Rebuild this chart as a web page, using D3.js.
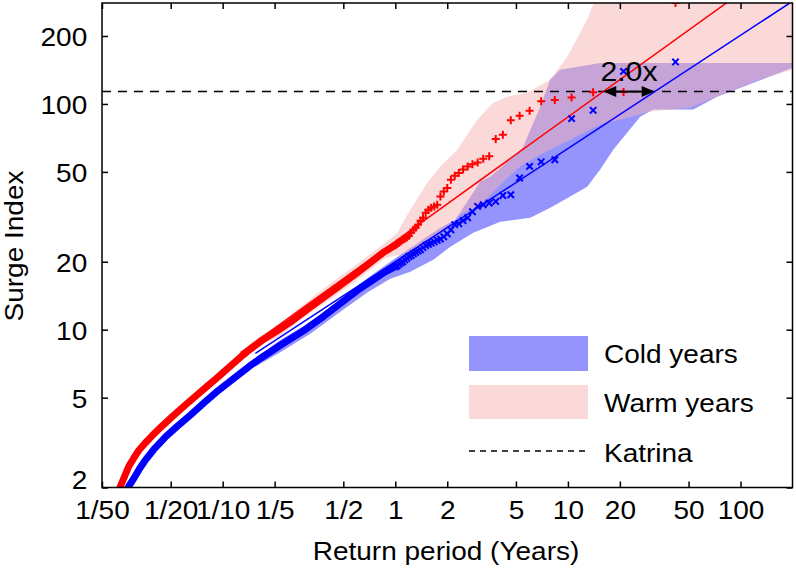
<!DOCTYPE html>
<html><head><meta charset="utf-8">
<script src="https://cdn.jsdelivr.net/npm/d3@7"></script>
<style>
body{margin:0;background:#fff}
svg{display:block}
text{font-family:"Liberation Sans",Arial,Helvetica,sans-serif}
</style>
</head><body>
<svg id="c" width="796" height="568"></svg>
<script>
// ---------------- data ----------------
const xTickValues = [0.02, 0.05, 0.1, 0.2, 0.5, 1, 2, 5, 10, 20, 50, 100];
const xTickLabels = ["1/50","1/20","1/10","1/5","1/2","1","2","5","10","20","50","100"];
const yTickValues = [2, 5, 10, 20, 50, 100, 200];
const katrina = 113.4;

// return periods of the individually visible ranked events (years)
const returnPeriods = [42, 21, 14, 10.5, 8.4, 7, 6, 5.25, 4.667, 4.2, 3.818, 3.5, 3.231, 3, 2.8, 2.625, 2.471, 2.333, 2.211, 2.1,
  2, 1.909, 1.826, 1.75, 1.68, 1.615, 1.556, 1.5, 1.448, 1.4, 1.355, 1.3125, 1.273, 1.235, 1.2, 1.167, 1.135, 1.105, 1.077, 1.05, 1.024, 1.0];
const warmSurge = [280, 113.0, 112.6, 106.9, 104.0, 102.7, 93.4, 88.7, 84.6, 73.1, 70.0, 58.6, 57.2, 55.0, 54.1, 52.8, 51.2, 49.4, 48.1, 46.2,
  42.4, 40.9, 38.9, 35.8, 35.1, 34.7, 34.0, 33.0, 31.3, 30.4, 29.2, 28.3, 27.7, 26.9, 26.1, 25.6, 25.3, 25.0, 24.6, 24.3, 24.0, 23.7];
const coldSurge = [153.5, 139.4, 93.7, 86.1, 56.6, 55.4, 52.9, 47.0, 39.6, 39.3, 37.0, 36.4, 35.8, 35.2, 33.3, 31.3, 30.4, 29.5, 29.2, 27.7,
  26.6, 25.8, 25.2, 24.9, 24.5, 24.2, 23.9, 23.6, 23.1, 22.6, 22.3, 22.0, 21.7, 21.3, 21.1, 20.7, 20.4, 20.0, 19.8, 19.5, 19.2, 19.0];

// densely packed frequent events (return period, surge index)
const warmDense = [[1.0,23.68],[0.856,22.05],[0.6,17.83],[0.42,14.58],[0.322,12.58],[0.2466,10.80],[0.2019,9.759],[0.169,8.967],
  [0.1447,8.204],[0.1266,7.546],[0.1079,6.772],[0.0907,6.029],[0.0826,5.677],[0.0695,5.069],[0.06,4.596],[0.0509,4.113],
  [0.0447,3.752],[0.039,3.388],[0.0357,3.158],[0.0326,2.916],[0.0304,2.682],[0.02855,2.477],[0.02697,2.232],[0.02557,2.022],[0.0249,1.925]];
const coldDense = [[1.0,19.01],[0.856,17.88],[0.6,14.89],[0.3845,11.46],[0.30,10.0],[0.218,8.581],[0.166,7.477],[0.143,6.892],
  [0.1184,6.160],[0.0948,5.395],[0.0794,4.797],[0.065,4.181],[0.0543,3.718],[0.047,3.367],[0.0398,2.940],[0.0353,2.615],
  [0.033,2.422],[0.0311,2.243],[0.02855,2.022],[0.02697,1.839]];

// fitted power laws (two end points each)
const warmFit = [[0.127, 7.91], [83.3, 281]];
const coldFit = [[0.1547, 7.85], [193.8, 280.6]];

// uncertainty bands (outline: upper edge left->right, then lower edge right->left)
const warmBandUpper = [[0.1266,7.99],[0.1653,9.41],[0.2158,10.6],[0.2818,12.6],[0.420,16.0],[0.6271,20.0],[0.8752,24.3],[1.027,26.9],[1.222,34.0],
  [1.532,44.8],[1.823,52.8],[2.286,62.7],[2.984,85.2],[3.694,101.3],[4.452,107.7],[5.812,112.2],[7.899,128.2],[9.906,162],[12.93,236],
  [14.39,290],[15.38,355],[200,355],[200,142]];
const warmBandLower = [[129.9,128.2],[73.2,107.7],[51.1,96.3],[29.96,92.5],[20.09,85.2],[15.38,81.0],[11.78,73.1],[9.03,66.0],[6.91,59.6],
  [5.29,52.8],[4.06,43.9],[3.11,35.8],[2.38,32.3],[1.82,27.2],[1.396,23.3],[1.069,21.5],[0.875,20.8],[0.627,17.0],[0.42,13.6],[0.282,11.1],
  [0.216,9.41],[0.165,8.50],[0.127,7.29]];
const coldBandUpper = [[0.1547,7.45],[0.2158,9.0],[0.322,10.8],[0.4803,13.6],[0.6886,16.9],[0.9355,20.0],[1.222,23.0],[1.823,28.3],
  [2.226,30.7],[2.829,40.5],[3.106,45.3],[3.549,47.6],[4.824,58.4],[5.51,64.7],[6.913,97.3],[7.899,128.2],[9.025,141.9],[15.38,152],[200,152]];
const coldBandLower = [[200,144.8],[73.2,107.7],[53.15,94.4],[31.19,94.4],[26.22,87.8],[22.04,74.6],[18.3,62.7],[15.38,51.2],[12.93,43.0],
  [10.31,38.9],[7.9,34.7],[6.05,31.3],[4.055,30.1],[2.829,26.9],[2.082,23.3],[1.66,20.4],[1.222,18.07],[0.9355,16.8],[0.6886,14.6],
  [0.4803,12.0],[0.322,9.6],[0.2158,7.95],[0.1547,6.85]];

const legendItems = ["Cold years", "Warm years", "Katrina"];

// ---------------- drawing ----------------
const SX = 1.12;           // horizontal glyph stretch of the original typeface
const FS = 25;
const L = 102, R = 792.5, T = 3, B = 487.5;
const svg = d3.select("#c");
const x = d3.scaleLog().domain([0.02, 200]).range([L, R]);
const y = d3.scaleLog().domain([2, 280]).range([B, T]);

svg.append("defs").append("clipPath").attr("id", "clip")
  .append("rect").attr("x", L).attr("y", T).attr("width", R - L).attr("height", B - T);
const plot = svg.append("g").attr("clip-path", "url(#clip)");

const line = d3.line().x(d => x(d[0])).y(d => y(d[1]));
const poly = (up, lo) => line(up.concat(lo)) + "Z";

plot.append("path").attr("d", poly(coldBandUpper, coldBandLower)).attr("fill", "#9494fc");
plot.append("path").attr("d", poly(warmBandUpper, warmBandLower)).attr("fill", "#f9b4b4").attr("fill-opacity", 0.5);

// Katrina
plot.append("line").attr("x1", L).attr("x2", R).attr("y1", y(katrina)).attr("y2", y(katrina))
  .attr("stroke", "#000").attr("stroke-width", 1.5).attr("stroke-dasharray", "9,7");

// fits
plot.append("path").attr("d", line(warmFit)).attr("stroke", "#ff0000").attr("stroke-width", 1.5).attr("fill", "none");
plot.append("path").attr("d", line(coldFit)).attr("stroke", "#0000ff").attr("stroke-width", 1.5).attr("fill", "none");

// dense data
plot.append("path").attr("d", line(coldDense)).attr("stroke", "#0000ff").attr("stroke-width", 7)
  .attr("fill", "none").attr("stroke-linejoin", "round").attr("stroke-linecap", "round");
plot.append("path").attr("d", line(warmDense)).attr("stroke", "#ff0000").attr("stroke-width", 7)
  .attr("fill", "none").attr("stroke-linejoin", "round").attr("stroke-linecap", "round");

// markers
plot.selectAll(".cold").data(returnPeriods.map((rp, i) => [rp, coldSurge[i]])).join("path")
  .attr("transform", d => `translate(${x(d[0])},${y(d[1])})`)
  .attr("d", "M-3.2,-3.2L3.2,3.2M-3.2,3.2L3.2,-3.2").attr("stroke", "#0000ff").attr("stroke-width", 2).attr("fill", "none");
plot.selectAll(".warm").data(returnPeriods.map((rp, i) => [rp, warmSurge[i]])).join("path")
  .attr("transform", d => `translate(${x(d[0])},${y(d[1])})`)
  .attr("d", "M-4,0H4M0,-4V4").attr("stroke", "#ff0000").attr("stroke-width", 2).attr("fill", "none");

// arrow between fit crossings of Katrina level
function crossX(fit, v) {
  const [a, b] = fit;
  const t = (Math.log(v) - Math.log(a[1])) / (Math.log(b[1]) - Math.log(a[1]));
  return Math.exp(Math.log(a[0]) + t * (Math.log(b[0]) - Math.log(a[0])));
}
const xa = x(crossX(warmFit, katrina)), xb = x(crossX(coldFit, katrina)), ya = y(katrina);
const hl = 13, hw = 5.5;
svg.append("line").attr("x1", xa + hl - 1).attr("x2", xb - hl + 1).attr("y1", ya).attr("y2", ya)
  .attr("stroke", "#000").attr("stroke-width", 2);
svg.append("path").attr("d", `M${xa},${ya}L${xa + hl},${ya - hw}L${xa + hl},${ya + hw}Z`).attr("fill", "#000");
svg.append("path").attr("d", `M${xb},${ya}L${xb - hl},${ya - hw}L${xb - hl},${ya + hw}Z`).attr("fill", "#000");

function label(g, px, py, txt, anchor, size, rot) {
  return g.append("text").attr("transform", `translate(${px},${py})${rot ? " rotate(" + rot + ")" : ""} scale(${SX},1)`)
    .attr("text-anchor", anchor).attr("font-size", size).attr("fill", "#000").text(txt);
}
label(svg, (xa + xb) / 2, ya - 10.5, "2.0x", "middle", 27);

// axes
const styleAxis = g => {
  g.select(".domain").remove();
  g.selectAll(".tick line").attr("stroke", "#000").attr("stroke-width", 1.5);
  g.attr("font-family", null).attr("font-size", FS);
};
svg.append("g").attr("transform", `translate(0,${B})`)
  .call(d3.axisBottom(x).tickValues(xTickValues).tickFormat((d, i) => xTickLabels[i]).tickSize(-6).tickSizeOuter(0).tickPadding(14))
  .call(styleAxis)
  .call(g => g.selectAll("text").attr("fill", "#000").attr("transform", `scale(${SX},1)`));
svg.append("g").attr("transform", `translate(0,${T})`)
  .call(d3.axisTop(x).tickValues(xTickValues).tickFormat("").tickSize(-6).tickSizeOuter(0)).call(styleAxis);
svg.append("g").attr("transform", `translate(${L},0)`)
  .call(d3.axisLeft(y).tickValues(yTickValues).tickFormat(d3.format("d")).tickSize(-6).tickSizeOuter(0).tickPadding(13))
  .call(styleAxis)
  .call(g => g.selectAll("text").attr("fill", "#000").attr("x", -13.2)
    .attr("dy", d => d === 2 ? "0.02em" : "0.38em").attr("transform", `scale(${SX},1)`));
svg.append("g").attr("transform", `translate(${R},0)`)
  .call(d3.axisRight(y).tickValues(yTickValues).tickFormat("").tickSize(-6).tickSizeOuter(0)).call(styleAxis);

svg.append("rect").attr("x", L).attr("y", T).attr("width", R - L).attr("height", B - T)
  .attr("fill", "none").attr("stroke", "#000").attr("stroke-width", 1.5);

label(svg, 446, 560, "Return period (Years)", "middle", FS);
label(svg, 23, 246, "Surge Index", "middle", FS, -90);

// legend
const lg = svg.append("g");
lg.append("rect").attr("x", 469).attr("y", 336).attr("width", 119).attr("height", 35).attr("fill", "#9494fc");
lg.append("rect").attr("x", 469).attr("y", 385).attr("width", 119).attr("height", 34).attr("fill", "#fcd9d9");
lg.append("line").attr("x1", 469).attr("x2", 588).attr("y1", 451).attr("y2", 451)
  .attr("stroke", "#000").attr("stroke-width", 1.3).attr("stroke-dasharray", "6,5");
label(lg, 604, 363, legendItems[0], "start", FS);
label(lg, 604, 412, legendItems[1], "start", FS);
label(lg, 604, 462, legendItems[2], "start", FS);
</script>
</body></html>
